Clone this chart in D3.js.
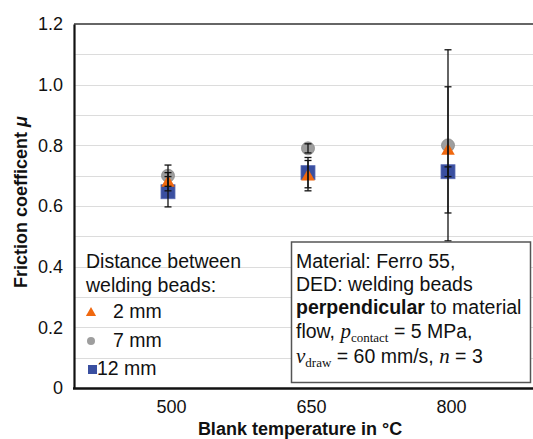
<!DOCTYPE html>
<html><head><meta charset="utf-8">
<script src="https://cdn.jsdelivr.net/npm/d3@7/dist/d3.min.js"></script>
<style>
html,body{margin:0;padding:0;background:#fff;}
svg{display:block;font-family:"Liberation Sans",Arial,sans-serif;}
</style></head>
<body>
<svg id="chart" width="533" height="439"></svg>
<script>
// ---- data ----
const categories = ['500', '650', '800'];
const seriesNames = ['2 mm', '7 mm', '12 mm'];
const mean2mm = [0.68, 0.70, 0.785];
const err2mm = [0.03, 0.05, 0.208];
const mean7mm = [0.70, 0.79, 0.80];
const err7mm = [0.035, 0.015, 0.315];
const mean12mm = [0.647, 0.71, 0.713];
const err12mm = [0.05, 0.05, 0.016];
const yTicks = [0, 0.2, 0.4, 0.6, 0.8, 1.0, 1.2];
const yGrid = [0.1, 0.2, 0.3, 0.4, 0.5, 0.6, 0.7, 0.8, 0.9, 1.0, 1.1];

(function () {
const svg = d3.select('#chart');
const W = 533;
const plotLeft = 74, plotTop = 24, plotBottom = 388;

const x = d3.scalePoint().domain(categories).range([168, 448]);
const y = d3.scaleLinear().domain([0, 1.2]).range([plotBottom, plotTop]);

// gridlines
svg.append('g').selectAll('line').data(yGrid).join('line')
  .attr('x1', plotLeft).attr('x2', W)
  .attr('y1', d => Math.round(y(d)) + 0.5).attr('y2', d => Math.round(y(d)) + 0.5)
  .attr('stroke', '#dcdcdc').attr('stroke-width', 1.2);

// frame
svg.append('line').attr('x1', plotLeft).attr('x2', W).attr('y1', plotTop).attr('y2', plotTop)
  .attr('stroke', '#333').attr('stroke-width', 1.6);

// y axis
const yAxis = d3.axisLeft(y).tickValues(yTicks).tickSize(0).tickPadding(11)
  .tickFormat(d => d === 0 ? '0' : d3.format('.1f')(d));
const ga = svg.append('g').attr('transform', `translate(${plotLeft},0)`).call(yAxis);
ga.select('.domain').attr('stroke', '#111').attr('stroke-width', 2.2);
ga.selectAll('text').attr('font-size', 18).attr('fill', '#111')
  .attr('font-family', '"Liberation Sans",Arial,sans-serif');

// x axis
const xAxis = d3.axisBottom(x).tickSize(0).tickPadding(12);
const gx = svg.append('g').attr('transform', `translate(0,${plotBottom})`).call(xAxis);
gx.select('.domain').remove();
gx.selectAll('text').attr('font-size', 18).attr('fill', '#111').attr('dx', 3)
  .attr('font-family', '"Liberation Sans",Arial,sans-serif');
svg.append('line').attr('x1', plotLeft - 1).attr('x2', W).attr('y1', plotBottom + 0.5).attr('y2', plotBottom + 0.5)
  .attr('stroke', '#111').attr('stroke-width', 2.6);

// axis titles
const yt = svg.append('text').attr('transform', 'translate(27,202) rotate(-90)')
  .attr('text-anchor', 'middle').attr('font-size', 18).attr('font-weight', 'bold').attr('fill', '#111');
yt.append('tspan').text('Friction coefficent ');
yt.append('tspan').attr('font-style', 'italic').text('μ');

svg.append('text').attr('x', 300).attr('y', 435).attr('text-anchor', 'middle')
  .attr('font-size', 18).attr('font-weight', 'bold').attr('fill', '#111')
  .text('Blank temperature in °C');

// markers
const colors = {tri: '#f0680f', circ: '#9e9e9e', sq: '#3a4fa0'};
const pts = (m, e) => categories.map((c, i) => ({c, v: m[i], e: e[i]}));
const d2 = pts(mean2mm, err2mm), d7 = pts(mean7mm, err7mm), d12 = pts(mean12mm, err12mm);

const gm = svg.append('g');
gm.selectAll('rect.sq').data(d12).join('rect').attr('class', 'sq')
  .attr('x', d => x(d.c) - 7).attr('y', d => y(d.v) - 7).attr('width', 14).attr('height', 14)
  .attr('fill', colors.sq).attr('stroke', '#5a6cb5').attr('stroke-width', 0.8);
gm.selectAll('circle.ci').data(d7).join('circle').attr('class', 'ci')
  .attr('cx', d => x(d.c)).attr('cy', d => y(d.v)).attr('r', 6.5)
  .attr('fill', colors.circ).attr('stroke', '#8a8a8a').attr('stroke-width', 0.8);
const triSym = d3.symbol().type(d3.symbolTriangle).size(80);
gm.selectAll('path.tr').data(d2).join('path').attr('class', 'tr')
  .attr('d', triSym).attr('transform', d => `translate(${x(d.c)},${y(d.v) + 1})`)
  .attr('fill', colors.tri);

// error bars
const ge = svg.append('g').attr('stroke', '#111').attr('stroke-width', 1.3).attr('fill', 'none');
[d2, d7, d12].forEach(ds => {
  ds.forEach(d => {
    const cx = x(d.c), y1 = y(d.v + d.e), y0 = y(d.v - d.e);
    ge.append('line').attr('x1', cx).attr('x2', cx).attr('y1', y1).attr('y2', y0);
    ge.append('line').attr('x1', cx - 3.5).attr('x2', cx + 3.5).attr('y1', y1).attr('y2', y1);
    ge.append('line').attr('x1', cx - 3.5).attr('x2', cx + 3.5).attr('y1', y0).attr('y2', y0);
  });
});

// legend
const fs = 19.5;
const lg = svg.append('g').attr('font-size', fs).attr('fill', '#111');
lg.append('text').attr('x', 86).attr('y', 268).text('Distance between');
lg.append('text').attr('x', 86).attr('y', 292).text('welding beads:');
lg.append('path').attr('d', d3.symbol().type(d3.symbolTriangle).size(45))
  .attr('transform', 'translate(91,313)').attr('fill', colors.tri);
lg.append('text').attr('x', 113).attr('y', 318).text(seriesNames[0]);
lg.append('circle').attr('cx', 91).attr('cy', 341).attr('r', 4).attr('fill', colors.circ);
lg.append('text').attr('x', 113).attr('y', 347).text(seriesNames[1]);
lg.append('rect').attr('x', 88).attr('y', 365).attr('width', 9).attr('height', 9).attr('fill', colors.sq);
lg.append('text').attr('x', 97).attr('y', 375).text(seriesNames[2]);

// annotation box
svg.append('rect').attr('x', 291.5).attr('y', 242).attr('width', 239).attr('height', 140.5)
  .attr('fill', '#fff').attr('stroke', '#555').attr('stroke-width', 1.5);
const tb = svg.append('g').attr('font-size', fs).attr('fill', '#111');
const serif = '"Liberation Serif","Times New Roman",serif';
tb.append('text').attr('x', 296).attr('y', 268).text('Material: Ferro 55,');
tb.append('text').attr('x', 296).attr('y', 291).text('DED: welding beads');
const l3 = tb.append('text').attr('x', 296).attr('y', 314);
l3.append('tspan').attr('font-weight', 'bold').text('perpendicular');
l3.append('tspan').text(' to material');
const l4 = tb.append('text').attr('x', 296).attr('y', 338);
l4.append('tspan').text('flow, ');
l4.append('tspan').attr('font-family', serif).attr('font-style', 'italic').attr('font-size', 21).text('p');
l4.append('tspan').attr('font-family', serif).attr('font-size', 13).attr('dy', 4).text('contact');
l4.append('tspan').attr('dy', -4).text(' = 5 MPa,');
const l5 = tb.append('text').attr('x', 296).attr('y', 363);
l5.append('tspan').attr('font-family', serif).attr('font-style', 'italic').attr('font-size', 21).text('v');
l5.append('tspan').attr('font-family', serif).attr('font-size', 13).attr('dy', 4).text('draw');
l5.append('tspan').attr('dy', -4).text(' = 60 mm/s, ');
l5.append('tspan').attr('font-family', serif).attr('font-style', 'italic').attr('font-size', 21).text('n');
l5.append('tspan').text(' = 3');
})();
</script>
</body></html>
